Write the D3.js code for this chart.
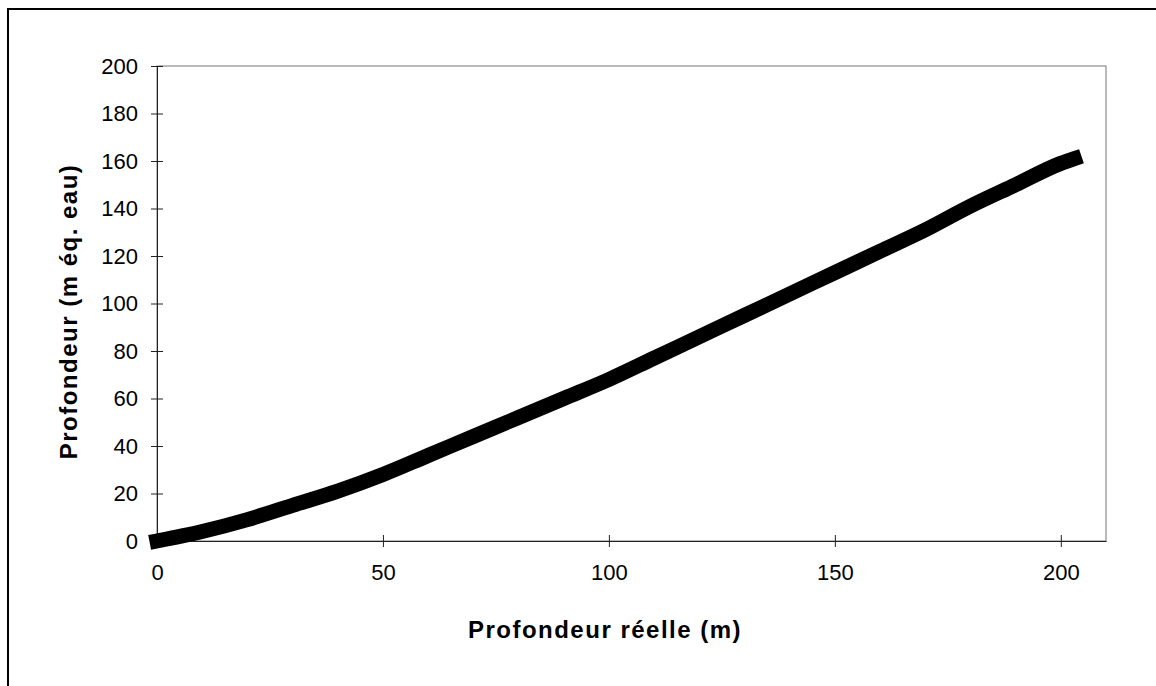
<!DOCTYPE html>
<html>
<head>
<meta charset="utf-8">
<script src="https://cdn.jsdelivr.net/npm/d3@7"></script>
<style>
  body { margin: 0; background: #fff; }
  text { font-family: "Liberation Sans", Arial, sans-serif; fill: #000; }
</style>
</head>
<body>
<div id="chart"></div>
<script>
// data
const depthReal = [0, 10, 20, 30, 40, 50, 60, 70, 80, 90, 100, 110, 120, 130, 140, 150, 160, 170, 180, 190, 200, 203];
const depthWater = [0, 4, 9, 15, 21, 28, 36, 44, 52, 60, 68, 77, 86, 95, 104, 113, 122, 131, 141, 150, 159, 161];
const xTicks = [0, 50, 100, 150, 200];
const yTicks = [0, 20, 40, 60, 80, 100, 120, 140, 160, 180, 200];

const width = 1156, height = 686;
const margin = { top: 66, right: 50, bottom: 145, left: 157 };

const svg = d3.select("#chart").append("svg")
  .attr("width", width).attr("height", height);

// outer frame (goes off the right/bottom of the picture)
svg.append("rect")
  .attr("x", 8).attr("y", 9)
  .attr("width", width + 20).attr("height", height + 20)
  .attr("fill", "none").attr("stroke", "#000").attr("stroke-width", 2);

const x = d3.scaleLinear().domain([0, 210]).range([margin.left, width - margin.right]);
const y = d3.scaleLinear().domain([0, 200]).range([height - margin.bottom, margin.top]);

// plot area border
svg.append("rect")
  .attr("x", x(0)).attr("y", y(200))
  .attr("width", x(210) - x(0)).attr("height", y(0) - y(200))
  .attr("fill", "none").attr("stroke", "#777").attr("stroke-width", 1);

// axes
const xAxis = svg.append("g")
  .attr("transform", `translate(0,${y(0)})`)
  .call(d3.axisBottom(x).tickValues(xTicks).tickSize(0).tickPadding(23));
const yAxis = svg.append("g")
  .attr("transform", `translate(${x(0)},0)`)
  .call(d3.axisLeft(y).tickValues(yTicks).tickSize(0).tickPadding(19));

[xAxis, yAxis].forEach(a => {
  a.select(".domain").attr("stroke", "#222");
  a.selectAll("text").style("font-size", "22px").style("font-family", "'Liberation Sans', Arial, sans-serif");
});

// crossing tick marks
xAxis.selectAll(".tick").append("line")
  .attr("y1", -6).attr("y2", 6).attr("stroke", "#222");
yAxis.selectAll(".tick").append("line")
  .attr("x1", -6).attr("x2", 6).attr("stroke", "#222");

// series
const pts = depthReal.map((d, i) => [d, depthWater[i]]);
const line = d3.line().x(d => x(d[0])).y(d => y(d[1])).curve(d3.curveMonotoneX);

svg.append("path")
  .datum(pts)
  .attr("d", line)
  .attr("fill", "none")
  .attr("stroke", "#000")
  .attr("stroke-width", 15)
  .attr("stroke-linecap", "square");

// axis titles
svg.append("text")
  .attr("x", 605).attr("y", 638)
  .attr("text-anchor", "middle")
  .style("font-size", "24px").style("font-weight", "bold")
  .style("letter-spacing", "1.5px")
  .text("Profondeur réelle (m)");

svg.append("text")
  .attr("transform", `translate(77,${(y(0) + y(200)) / 2 + 8}) rotate(-90)`)
  .attr("text-anchor", "middle")
  .style("font-size", "24px").style("font-weight", "bold")
  .style("letter-spacing", "1.5px")
  .text("Profondeur (m éq. eau)");
</script>
</body>
</html>
